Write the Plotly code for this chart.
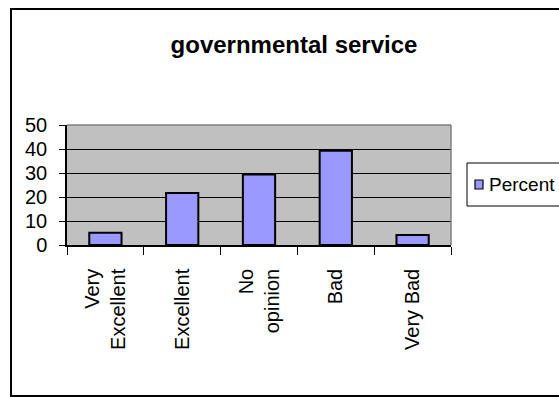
import plotly.graph_objects as go

# Survey results: opinion of governmental service
categories = ["Very<br>Excellent", "Excellent", "No<br>opinion", "Bad", "Very Bad"]
percent = [5.1, 21.7, 29.4, 39.3, 4.2]
y_ticks = [0, 10, 20, 30, 40, 50]
series_name = "Percent"

W, H = 559, 397
L, R, T, B = 67, 108, 125, 152
plot_w = W - L - R
plot_h = H - T - B


def px_x(px):
    return (px - L) / plot_w


def px_y(py):
    return (H - B - py) / plot_h


BAR_FILL = "#9999FF"
FONT = "Liberation Sans, Arial, sans-serif"

fig = go.Figure(
    go.Bar(
        x=categories,
        y=percent,
        name=series_name,
        marker=dict(color=BAR_FILL, line=dict(color="black", width=2)),
        showlegend=False,
    )
)

fig.update_layout(
    width=W,
    height=H,
    margin=dict(l=L, r=R, t=T, b=B, pad=0),
    paper_bgcolor="white",
    plot_bgcolor="#C0C0C0",
    bargap=0.58,
    font=dict(family=FONT, color="black", size=20),
    title=dict(
        text="<b>governmental service</b>",
        x=294 / W,
        xanchor="center",
        xref="container",
        y=1 - 45 / H,
        yanchor="middle",
        yref="container",
        font=dict(family=FONT, size=24, color="black"),
    ),
    xaxis=dict(
        type="category",
        tickson="boundaries",
        ticks="outside",
        ticklen=8,
        tickwidth=1,
        tickcolor="black",
        tickangle=-90,
        ticklabelstandoff=14,
        showgrid=False,
        showline=True,
        linecolor="black",
        linewidth=1.5,
        tickfont=dict(size=20),
    ),
    yaxis=dict(
        range=[0, 50],
        tickvals=y_ticks,
        ticks="outside",
        ticklen=6,
        tickwidth=1,
        tickcolor="black",
        ticklabelstandoff=8,
        showgrid=True,
        gridcolor="black",
        gridwidth=1,
        zeroline=False,
        showline=True,
        linecolor="black",
        linewidth=1.5,
        tickfont=dict(size=20),
    ),
)

shapes = [
    # grey frame around the plotting area (top and right edges)
    dict(type="line", xref="paper", yref="paper", x0=0, x1=1, y0=1, y1=1,
         line=dict(color="#808080", width=1.5), layer="above"),
    dict(type="line", xref="paper", yref="paper", x0=1, x1=1, y0=0, y1=1,
         line=dict(color="#808080", width=1.5), layer="above"),
    # outer chart border
    dict(type="rect", xref="paper", yref="paper",
         x0=px_x(11), x1=px_x(566), y0=px_y(396), y1=px_y(9),
         line=dict(color="black", width=2), fillcolor="rgba(0,0,0,0)"),
    # legend box
    dict(type="rect", xref="paper", yref="paper",
         x0=px_x(467), x1=px_x(570), y0=px_y(206), y1=px_y(163),
         line=dict(color="black", width=1), fillcolor="white"),
    # legend swatch
    dict(type="rect", xref="paper", yref="paper",
         x0=px_x(475), x1=px_x(483), y0=px_y(189), y1=px_y(180),
         line=dict(color="black", width=1.2), fillcolor=BAR_FILL),
]
fig.update_layout(shapes=shapes)

fig.add_annotation(
    text=series_name,
    xref="paper", yref="paper",
    x=px_x(487), y=px_y(184.5),
    xanchor="left", yanchor="middle",
    showarrow=False,
    font=dict(family=FONT, size=19, color="black"),
)

fig.write_html("out.html")
